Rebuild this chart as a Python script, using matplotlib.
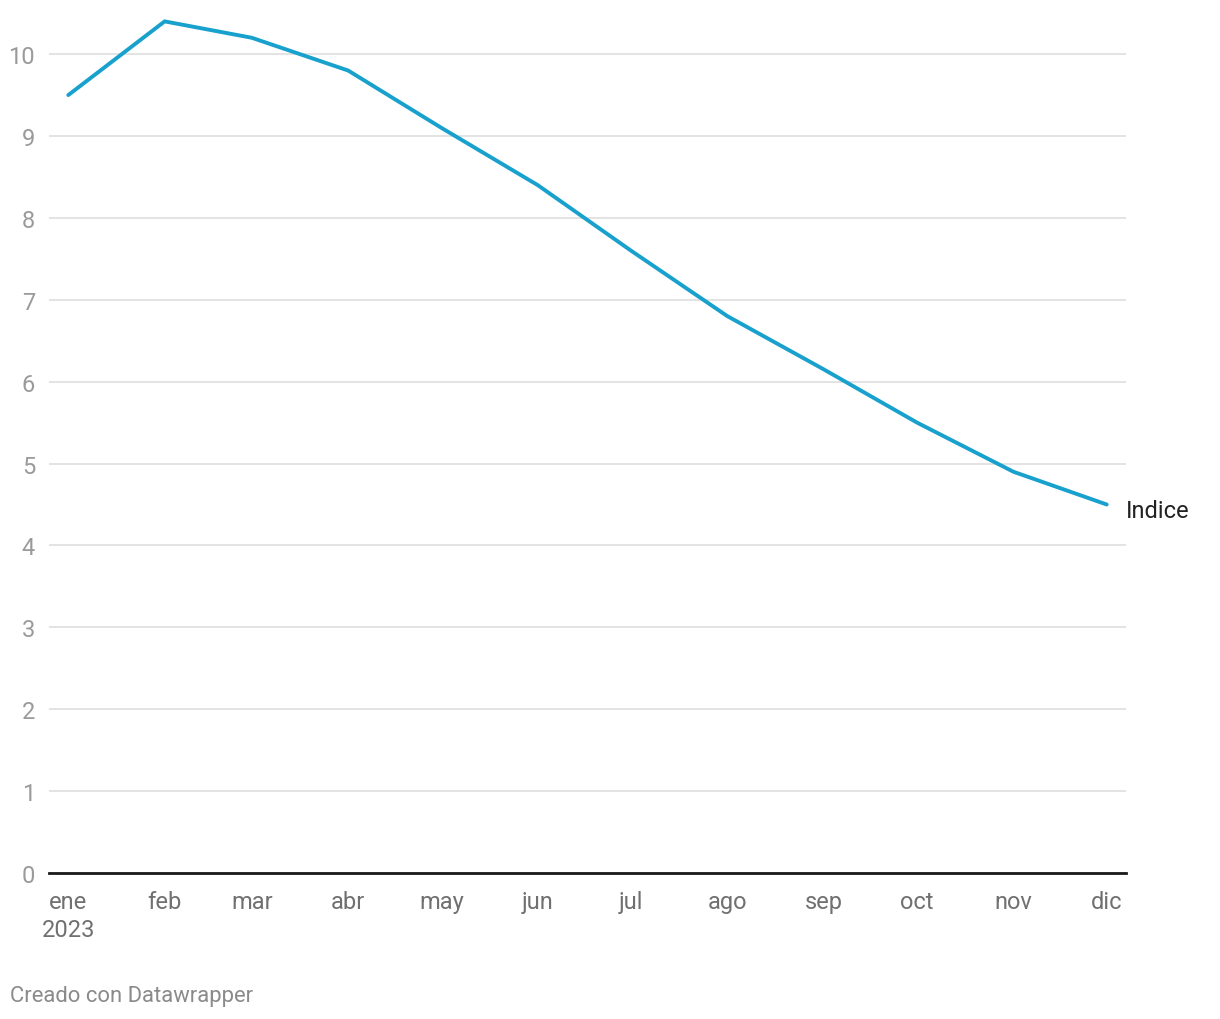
import matplotlib
matplotlib.use("Agg")
import matplotlib.pyplot as plt
import pandas as pd

# Data
months = pd.date_range("2023-01-01", "2023-12-01", freq="MS")
indice = [9.5, 10.4, 10.2, 9.8, 9.1, 8.4, 7.6, 6.8, 6.15, 5.5, 4.9, 4.5]
month_labels = ["ene\n2023", "feb", "mar", "abr", "may", "jun",
                "jul", "ago", "sep", "oct", "nov", "dic"]
y_ticks = list(range(0, 11))

plt.rcParams["font.family"] = ["Roboto", "DejaVu Sans"]

fig = plt.figure(figsize=(12.2, 10.2), dpi=100)
ax = fig.add_axes([49 / 1220, (1020 - 874) / 1020, (1126 - 49) / 1220, 868 / 1020])

ax.plot(months, indice, color="#18a1cd", linewidth=2.8, solid_capstyle="round",
        solid_joinstyle="miter", clip_on=False, zorder=3)

# x range: a few days padding on each side
ax.set_xlim(months[0] - pd.Timedelta(days=6.2), months[-1] + pd.Timedelta(days=6.2))
ax.set_ylim(0, 10.6)

ax.set_yticks(y_ticks)
ax.set_yticklabels([str(t) for t in y_ticks])
ax.set_xticks(months)
ax.set_xticklabels(month_labels, linespacing=1.3)

ax.grid(axis="y", color="#e3e3e3", linewidth=1.4)
ax.set_axisbelow(True)
for s in ["top", "right", "left"]:
    ax.spines[s].set_visible(False)
ax.spines["bottom"].set_color("#1a1a1a")
ax.spines["bottom"].set_linewidth(2.0)
ax.spines["bottom"].set_zorder(4)

ax.tick_params(axis="y", length=0, pad=10, labelsize=17, labelcolor="#9a9a9a")
ax.tick_params(axis="x", length=0, pad=12, labelsize=17, labelcolor="#707070")

# series label at line end
ax.annotate("Indice", xy=(months[-1], indice[-1]), xytext=(14, -4),
            textcoords="offset points", fontsize=17, color="#222222",
            va="center", ha="left", annotation_clip=False)

fig.text(10 / 1220, 1 - 997 / 1020, "Creado con Datawrapper", fontsize=15.8,
         color="#8a8a8a", va="center", ha="left")

fig.savefig("out.png", dpi=100, facecolor="white")
